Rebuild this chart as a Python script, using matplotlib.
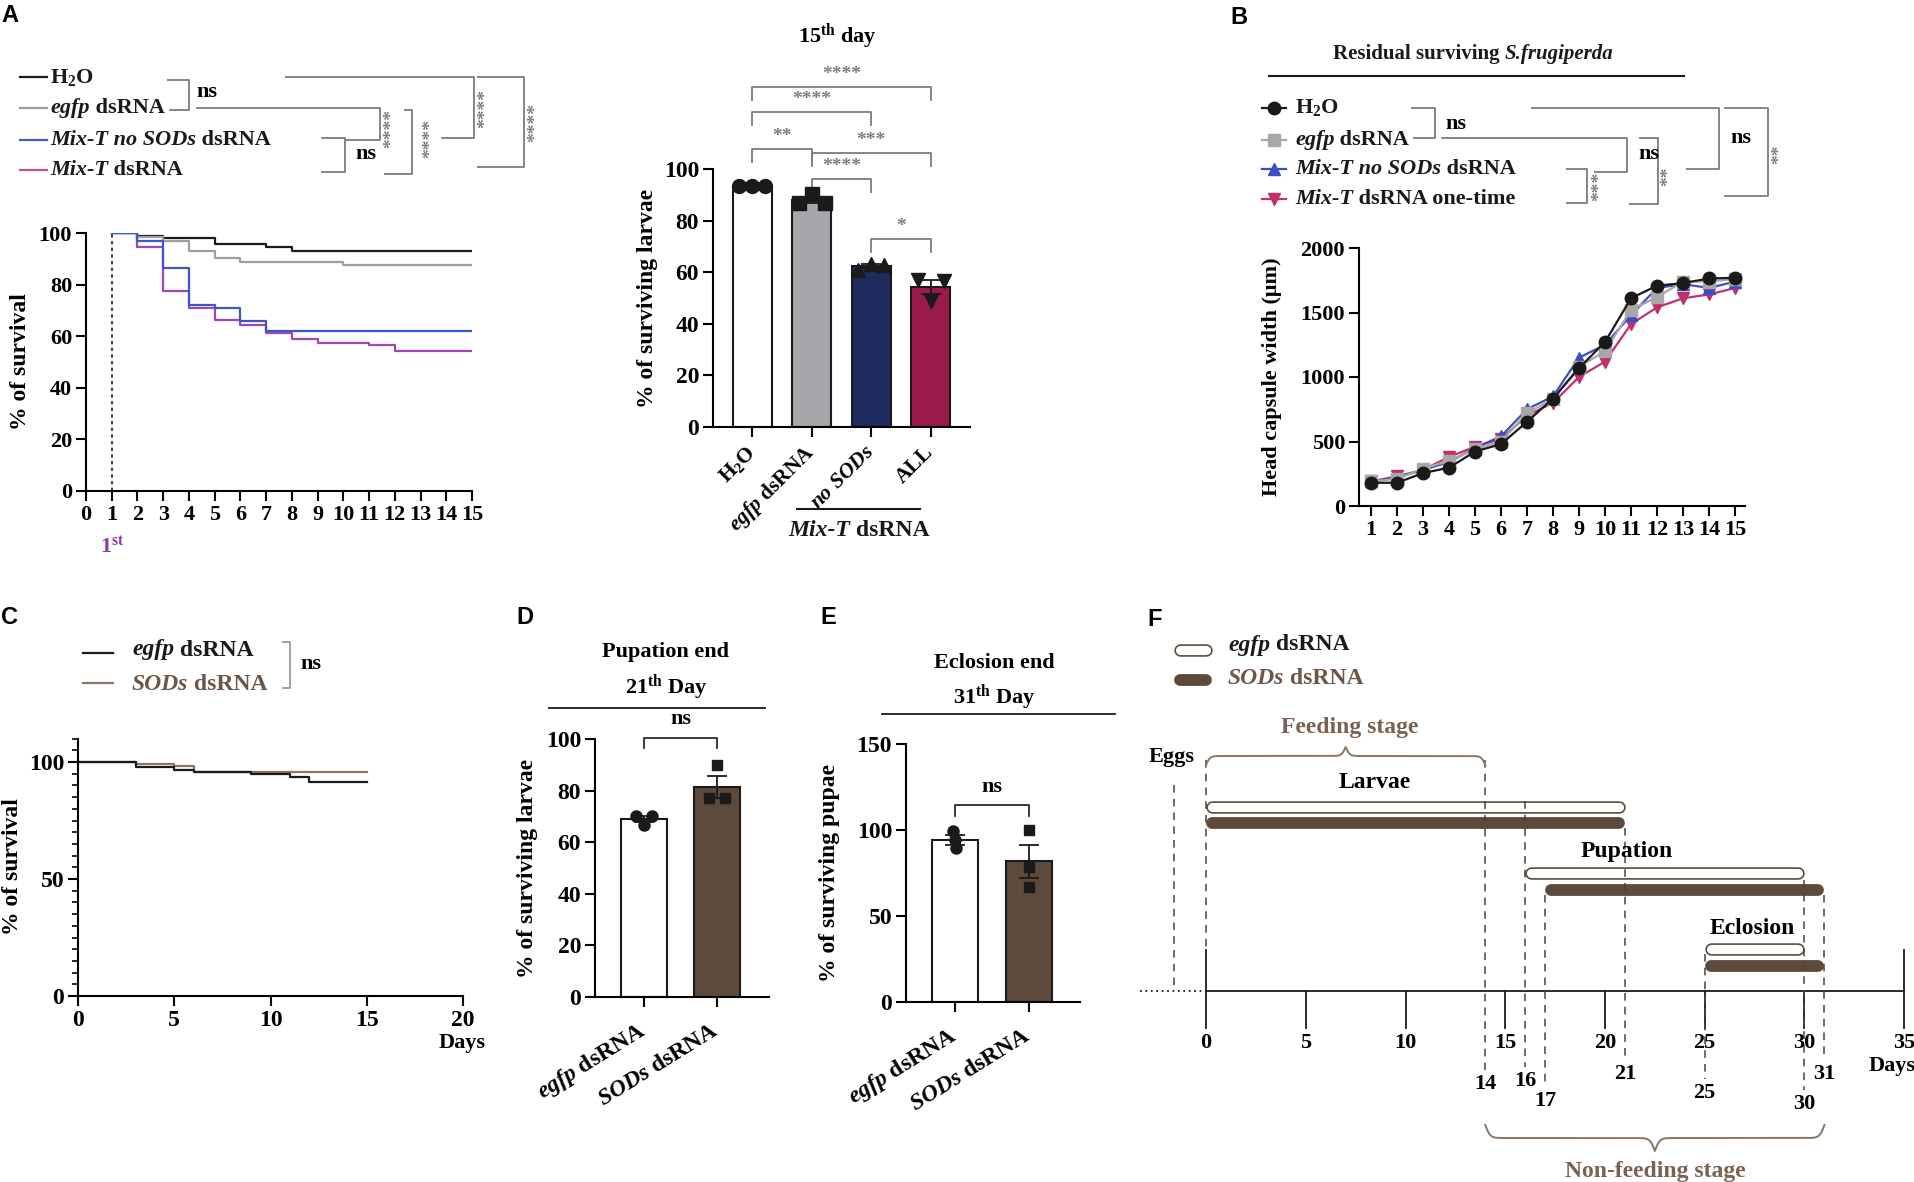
import numpy as np
import matplotlib
matplotlib.use("Agg")
import matplotlib.pyplot as plt

# ---------------- data ----------------
# A, survival curves (day of each step, % surviving)
a_h2o_x = [1, 2, 3, 5, 7, 8, 15]
a_h2o_y = [100, 98.8, 97.9, 95.6, 94.4, 93.2, 93.2]
a_egfp_x = [1, 2, 3, 4, 5, 6, 10, 15]
a_egfp_y = [100, 98.3, 96.9, 93.2, 90.4, 88.6, 87.6, 87.6]
a_nosod_x = [1, 2, 3, 4, 5, 6, 7, 15]
a_nosod_y = [100, 97.0, 86.5, 72.2, 71.0, 65.7, 62.2, 62.2]
a_mix_x = [1, 2, 3, 4, 5, 6, 7, 8, 9, 11, 12, 15]
a_mix_y = [100, 94.7, 77.5, 70.8, 66.4, 64.3, 61.1, 58.8, 57.4, 56.4, 54.2, 54.2]

# A, 15th day bars (three replicates per group)
bar_labels = [r"H$_2$O", r"$\mathit{egfp}$ dsRNA", r"$\mathit{no\ SODs}$", "ALL"]
bar_pts = [[93.5, 93.5, 93.5], [86.7, 90.5, 86.7], [60.8, 63.2, 62.8], [57.0, 49.0, 56.6]]

# B, head capsule width per day
b_days = list(range(1, 16))
b_h2o = [180, 180, 255, 297, 422, 480, 653, 833, 1069, 1272, 1611, 1708, 1728, 1764, 1769]
b_egfp = [190, 210, 290, 350, 440, 500, 720, 830, 1080, 1200, 1520, 1620, 1740, 1740, 1760]
b_nosod = [190, 220, 280, 340, 450, 540, 750, 850, 1150, 1250, 1480, 1690, 1720, 1690, 1740]
b_mix = [190, 230, 280, 380, 460, 520, 700, 800, 1000, 1120, 1410, 1540, 1610, 1640, 1690]

# C, survival
c_egfp_x = [0, 3, 5, 6, 9, 11, 12, 15]
c_egfp_y = [100, 97.9, 96.7, 95.7, 95.0, 93.6, 91.3, 91.3]
c_sod_x = [0, 3, 5, 6, 15]
c_sod_y = [100, 99.0, 98.1, 95.7, 95.7]

# D, E replicates
de_labels = [r"$\mathit{egfp}$ dsRNA", r"$\mathit{SODs}$ dsRNA"]
d_egfp = [70, 66.5, 70]
d_sod = [77, 90, 77]
e_egfp = [99.5, 94, 89.5]
e_sod = [100, 78.5, 67]

# F, timeline (days)
f_stages = ["Larvae", "Pupation", "Eclosion"]
f_egfp_start = [0, 16, 25]
f_egfp_end = [21, 30, 30]
f_sod_start = [0, 17, 25]
f_sod_end = [21, 31, 31]
f_ticks = [0, 5, 10, 15, 20, 25, 30, 35]
f_marks = [14, 16, 17, 21, 25, 30, 31]

# ---------------- style ----------------
plt.rcParams["font.family"] = ["Liberation Serif", "DejaVu Serif"]
plt.rcParams["font.weight"] = "bold"
plt.rcParams["mathtext.fontset"] = "custom"
plt.rcParams["mathtext.rm"] = "Liberation Serif:bold"
plt.rcParams["mathtext.it"] = "Liberation Serif:italic:bold"
plt.rcParams["mathtext.bf"] = "Liberation Serif:bold"
plt.rcParams["axes.linewidth"] = 1.5

W, H = 1914, 1182
fig = plt.figure(figsize=(W / 100, H / 100), dpi=100)

BLACK = "#1a1a1a"
GRAY = "#7c7c7c"
BROWN = "#5e4a3c"
BROWN_T = "#7a6150"


def px_axes(x0, y0, x1, y1):
    # axes from pixel box (top-left origin)
    return fig.add_axes([x0 / W, 1 - y1 / H, (x1 - x0) / W, (y1 - y0) / H])


def style(ax, size=14):
    for s in ["top", "right"]:
        ax.spines[s].set_visible(False)
    ax.tick_params(direction="out", length=7, width=1.5, labelsize=size, pad=3)
    for lab in ax.get_xticklabels() + ax.get_yticklabels():
        lab.set_fontweight("bold")


ov = fig.add_axes([0, 0, 1, 1], zorder=10)
ov.set_xlim(0, W)
ov.set_ylim(H, 0)
ov.axis("off")


def rich(x, y, parts, size=16, color=BLACK, ax=None):
    ax = ax or ov
    t = ax.text(x, y, parts[0][0], fontsize=size, style=parts[0][1], color=color,
                va="center", ha="left", fontweight="bold")
    for s, st in parts[1:]:
        t = ax.annotate(s, xy=(1, 0), xycoords=t, va="bottom", ha="left",
                        fontsize=size, style=st, color=color, fontweight="bold")
    return t


def seg(pts, color=GRAY, lw=1.3, ax=None, **kw):
    ax = ax or ov
    xs, ys = zip(*pts)
    ax.plot(xs, ys, color=color, lw=lw, solid_capstyle="butt", **kw)


def stars(x, y, s, size=14, rot=90):
    ov.text(x, y, s, rotation=rot, ha="center", va="center", fontsize=size, color=GRAY)


# panel letters
for lab, x, y in [("A", 10, 16), ("B", 1239, 18), ("C", 10, 617),
                  ("D", 525, 618), ("E", 828, 618), ("F", 1155, 620)]:
    ov.text(x, y, lab, fontsize=17, fontweight="bold", family="Liberation Sans",
            ha="center", va="center")

# ================= A: survival =================
ax = px_axes(86, 233, 472, 491)
ax.step(a_h2o_x, a_h2o_y, where="post", color=BLACK, lw=1.6)
ax.step(a_egfp_x, a_egfp_y, where="post", color="#a0a0a0", lw=1.6)
ax.step(a_mix_x, a_mix_y, where="post", color="#a046bd", lw=1.6)
ax.step(a_nosod_x, a_nosod_y, where="post", color="#3b57c8", lw=1.6)
ax.plot([1, 1], [0, 100], ls=(0, (2, 2)), color=BLACK, lw=1.2)
ax.set_xlim(0, 15)
ax.set_ylim(0, 100)
ax.set_xticks(range(16))
ax.set_yticks(range(0, 101, 20))
style(ax, 16)
ov.text(21, 362, "% of survival", rotation=90, ha="center", va="center", fontsize=17)
ov.text(112, 547, r"1$^{\mathrm{st}}$", color="#8e3ca8", ha="center", va="center", fontsize=16)

leg_a = [(BLACK, [(r"H$_2$O", "normal")]),
         ("#9a9a9a", [("egfp", "italic"), (" dsRNA", "normal")]),
         ("#4a5cc8", [("Mix-T no SODs", "italic"), (" dsRNA", "normal")]),
         ("#c0508e", [("Mix-T", "italic"), (" dsRNA", "normal")])]
for (c, parts), y in zip(leg_a, [77, 108, 140, 170]):
    ov.plot([20, 47], [y, y], color=c, lw=1.6)
    rich(50, y, parts, size=16)

# significance brackets (legend of A)
seg([(167, 80), (189, 80), (189, 110), (169, 110)])
ov.text(196, 92, "ns", fontsize=16, va="center")
seg([(196, 108), (380, 108), (380, 140), (345, 140)])
seg([(321, 138), (345, 138), (345, 172), (321, 172)])
ov.text(355, 154, "ns", fontsize=16, va="center")
stars(392, 129, "****")
seg([(404, 110), (412, 110), (412, 174), (384, 174)])
stars(431, 138, "****")
seg([(441, 138), (474, 138), (474, 77), (285, 77)])
stars(486, 108, "****")
seg([(477, 77), (524, 77), (524, 167), (477, 167)])
stars(536, 122, "****")

# ================= A: 15th day bars =================
ax = px_axes(713, 169, 970, 427)
means = [np.mean(p) for p in bar_pts]
sems = [np.std(p, ddof=1) / np.sqrt(len(p)) for p in bar_pts]
xpos = np.arange(len(bar_pts))
ax.bar(xpos, means, width=0.65, color=["white", "#a6a6ab", "#1f2b5e", "#9b1a4c"],
       edgecolor=BLACK, lw=1.5, zorder=2)
ax.errorbar(xpos, means, yerr=sems, fmt="none", ecolor=BLACK, capsize=7,
            elinewidth=1.3, capthick=1.3, zorder=3)
for i, (p, m) in enumerate(zip(bar_pts, ["o", "s", "^", "v"])):
    ax.plot(i + np.array([-0.22, 0, 0.22]), p, m, color=BLACK, ms=10, zorder=4, clip_on=False)
ax.set_xlim(-0.66, 3.66)
ax.set_ylim(0, 100)
ax.set_yticks(range(0, 101, 20))
ax.set_xticks(xpos)
ax.set_xticklabels(bar_labels, rotation=45, ha="right", va="center", rotation_mode="anchor")
style(ax, 17)
ax.tick_params(axis="x", pad=9, labelsize=15.5)


def bracket(ax, x0, x1, y, txt, drop=5, size=14):
    ax.plot([x0, x0, x1, x1], [y - drop, y, y, y - drop], color=GRAY, lw=1.3, clip_on=False)
    ax.text((x0 + x1) / 2, y + 1.5, txt, ha="center", va="bottom", fontsize=size,
            color=GRAY, clip_on=False)


bracket(ax, 0, 3, 131.8, "****")
bracket(ax, 0, 2, 122.1, "****")
bracket(ax, 0, 1, 107.8, "**")
bracket(ax, 1, 3, 106.2, "***")
bracket(ax, 1, 2, 96.1, "****")
bracket(ax, 2, 3, 72.9, "*")
ov.text(837, 36, r"15$^{\mathrm{th}}$ day", ha="center", va="center", fontsize=16)
ov.text(647, 298, "% of surviving larvae", rotation=90, ha="center", va="center", fontsize=17)
ov.plot([797, 920], [509, 509], color=BLACK, lw=1.5)
rich(788, 530, [("Mix-T", "italic"), (" dsRNA", "normal")], size=17)

# ================= B =================
ax = px_axes(1359, 248, 1745, 506)
b_series = [(b_mix, "#c2306c", "v"), (b_nosod, "#3a4fc4", "^"),
            (b_egfp, "#a8a8a8", "s"), (b_h2o, BLACK, "o")]
for vals, c, m in b_series:
    ax.plot(b_days, vals, marker=m, color=c, lw=1.6, ms=9)
ax.set_xlim(0.54, 15.38)
ax.set_ylim(0, 2000)
ax.set_xticks(b_days)
ax.set_yticks(range(0, 2001, 500))
style(ax, 16)
ov.text(1272, 377, "Head capsule width (μm)", rotation=90, ha="center", va="center", fontsize=16)
rich(1333, 54, [("Residual surviving ", "normal"), ("S.frugiperda", "italic")], size=15)
ov.plot([1269, 1684], [76, 76], color=BLACK, lw=1.5)
leg_b = [(BLACK, "o", [(r"H$_2$O", "normal")]),
         ("#a8a8a8", "s", [("egfp", "italic"), (" dsRNA", "normal")]),
         ("#3a4fc4", "^", [("Mix-T no SODs", "italic"), (" dsRNA", "normal")]),
         ("#c2306c", "v", [("Mix-T", "italic"), (" dsRNA one-time", "normal")])]
for (c, m, parts), y in zip(leg_b, [108, 140, 169, 199]):
    ov.plot([1262, 1286], [y, y], color=c, lw=1.6)
    ov.plot([1274], [y], marker=m, color=c, ms=9)
    rich(1295, y, parts, size=16)
seg([(1411, 108), (1435, 108), (1435, 138), (1413, 138)])
ov.text(1445, 124, "ns", fontsize=16, va="center")
seg([(1441, 138), (1627, 138), (1627, 172), (1594, 172)])
ov.text(1638, 154, "ns", fontsize=16, va="center")
seg([(1566, 169), (1587, 169), (1587, 203), (1566, 203)])
stars(1600, 186, "***")
seg([(1639, 138), (1658, 138), (1658, 204), (1629, 204)])
stars(1669, 176, "**")
seg([(1531, 108), (1719, 108), (1719, 169), (1686, 169)])
ov.text(1730, 138, "ns", fontsize=16, va="center")
seg([(1724, 108), (1768, 108), (1768, 196), (1724, 196)])
stars(1780, 154, "**")

# ================= C =================
ax = px_axes(78, 738.6, 463, 996)
ax.step(c_sod_x, c_sod_y, where="post", color="#8b7567", lw=1.6)
ax.step(c_egfp_x, c_egfp_y, where="post", color=BLACK, lw=1.6)
ax.set_xlim(0, 20)
ax.set_ylim(0, 110)
ax.set_xticks(range(0, 21, 5))
ax.set_yticks([0, 50, 100])
ax.set_yticks(range(0, 111, 5), minor=True)
style(ax, 17)
ax.tick_params(which="minor", length=4, width=1.2)
ov.text(13, 867, "% of survival", rotation=90, ha="center", va="center", fontsize=17)
ov.text(462, 1043, "Days", ha="center", va="center", fontsize=16)
ov.plot([83, 113], [653, 653], color=BLACK, lw=1.6)
ov.plot([83, 113], [683, 683], color="#8b7567", lw=1.6)
rich(132, 650, [("egfp", "italic"), (" dsRNA", "normal")], size=17)
rich(132, 684, [("SODs", "italic"), (" dsRNA", "normal")], size=17, color="#6e5646")
seg([(282, 642), (290, 642), (290, 688), (282, 688)], color="#9a9a9a")
ov.text(300, 664, "ns", fontsize=16, va="center")


# ================= D, E =================
def small_bars(box, egfp, sod):
    ax = px_axes(*box)
    pts = [egfp, sod]
    m = [np.mean(p) for p in pts]
    se = [np.std(p, ddof=1) / np.sqrt(len(p)) for p in pts]
    ax.bar([0, 1], m, width=0.62, color=["white", BROWN], edgecolor=BLACK, lw=1.5, zorder=2)
    ax.errorbar([0, 1], m, yerr=se, fmt="none", ecolor=BLACK, capsize=7,
                elinewidth=1.3, capthick=1.3, zorder=3)
    return ax, pts


ax, pts = small_bars((595, 739, 769, 997), d_egfp, d_sod)
ax.plot(np.array([-0.11, 0, 0.11]), pts[0], "o", color=BLACK, ms=8, zorder=4)
ax.plot(1 + np.array([-0.11, 0, 0.11]), pts[1], "s", color=BLACK, ms=7, zorder=4)
ax.set_xlim(-0.67, 1.71)
ax.set_ylim(0, 100)
ax.set_yticks(range(0, 101, 20))
ax.set_xticks([0, 1])
ax.set_xticklabels(de_labels, rotation=32, ha="right", va="center", rotation_mode="anchor")
style(ax, 17)
ax.tick_params(axis="x", pad=16)
ax.plot([0, 0, 1, 1], [96.5, 100.4, 100.4, 96.5], color=BLACK, lw=1.2, clip_on=False)
ax.text(0.5, 104, "ns", ha="center", va="bottom", fontsize=16)
ov.text(527, 868, "% of surviving larvae", rotation=90, ha="center", va="center", fontsize=17)
ov.text(666, 652, "Pupation end", ha="center", va="center", fontsize=16)
ov.text(666, 687, r"21$^{\mathrm{th}}$ Day", ha="center", va="center", fontsize=16)
ov.plot([549, 765], [708, 708], color=BLACK, lw=1.3)

ax, pts = small_bars((906, 744, 1080, 1002), e_egfp, e_sod)
ax.plot(np.array([-0.02, 0.0, 0.02]), pts[0], "o", color=BLACK, ms=8, zorder=4)
ax.plot(1 + np.array([0, 0, 0]), pts[1], "s", color=BLACK, ms=7, zorder=4)
ax.set_xlim(-0.66, 1.69)
ax.set_ylim(0, 150)
ax.set_yticks(range(0, 151, 50))
ax.set_xticks([0, 1])
ax.set_xticklabels(de_labels, rotation=32, ha="right", va="center", rotation_mode="anchor")
style(ax, 17)
ax.tick_params(axis="x", pad=16)
ax.plot([0, 0, 1, 1], [108, 114.5, 114.5, 108], color=BLACK, lw=1.2, clip_on=False)
ax.text(0.5, 119, "ns", ha="center", va="bottom", fontsize=16)
ov.text(830, 873, "% of surviving pupae", rotation=90, ha="center", va="center", fontsize=17)
ov.text(994, 663, "Eclosion end", ha="center", va="center", fontsize=16)
ov.text(994, 697, r"31$^{\mathrm{th}}$ Day", ha="center", va="center", fontsize=16)
ov.plot([882, 1115], [714, 714], color=BLACK, lw=1.3)

# ================= F: timeline =================
ax = px_axes(1140, 600, 1914, 1182)
ax.set_xlim(-3.31, 35.49)
ax.set_ylim(1182, 600)
ax.axis("off")
PXD = 19.95  # pixels per day
AXY = 991

ax.plot([0, f_ticks[-1]], [AXY, AXY], color=BLACK, lw=1.3)
ax.plot([-3.31, 0], [AXY, AXY], color=BLACK, lw=1.3, ls=(0, (1, 2)))
for d in f_ticks:
    top = 950 if d in (0, f_ticks[-1]) else AXY
    ax.plot([d, d], [top, 1028], color=BLACK, lw=1.3)
    ax.text(d, 1043, str(d), ha="center", va="center", fontsize=16)
ax.text(34.4, 1066, "Days", ha="center", va="center", fontsize=16)

egfp_rows = [807, 873, 948.5]
sod_rows = [823, 889.5, 965.5]
cap = 6 / PXD


def open_bar(x0, x1, y):
    ax.plot([x0 + cap, x1 - cap], [y, y], color=BROWN, lw=9, solid_capstyle="round")
    ax.plot([x0 + cap, x1 - cap], [y, y], color="white", lw=6.6, solid_capstyle="round")


def full_bar(x0, x1, y):
    ax.plot([x0 + cap, x1 - cap], [y, y], color=BROWN, lw=8.5, solid_capstyle="round")


for s, e, y in zip(f_egfp_start, f_egfp_end, egfp_rows):
    open_bar(s, e, y)
for s, e, y in zip(f_sod_start, f_sod_end, sod_rows):
    full_bar(s, e, y)
for name, x, y in zip(f_stages, [8.45, 21.1, 27.4], [783, 852, 928]):
    ax.text(x, y, name, ha="center", va="center", fontsize=17)

# dashed guide lines
dash = dict(color="#444444", lw=1.1, ls=(0, (5, 4)))
ax.plot([-1.6, -1.6], [785, AXY], **dash)
ax.text(-1.74, 757, "Eggs", ha="center", va="center", fontsize=16)
ax.plot([0, 0], [760, 950], **dash)
mark_top = [760, 801, 895, 828, 954, 880, 895]
mark_lab_y = [1084, 1081, 1101, 1074, 1093, 1104, 1074]
for d, top, ly in zip(f_marks, mark_top, mark_lab_y):
    ax.plot([d, d], [top, ly - 14], **dash)
    ax.text(d, ly, str(d), ha="center", va="center", fontsize=16)


def brace(x0, x1, y_edge, h, up=True, n=300):
    u = np.linspace(0, 0.5, n)
    beta = 140.0
    half = 1 / (1 + np.exp(-beta * (u - u[0]))) + 1 / (1 + np.exp(-beta * (u - u[-1])))
    yy = np.concatenate([half, half[-2::-1]]) - 0.5
    xx = np.linspace(x0, x1, len(yy))
    sign = -1 if up else 1
    ax.plot(xx, y_edge + sign * h * yy, color="#8a7462", lw=1.4)


brace(0, 14, 765, 18, up=True)
ax.text(7.2, 727, "Feeding stage", ha="center", va="center", fontsize=17, color=BROWN_T)
brace(14, 31, 1125, 26, up=False)
ax.text(22.5, 1171, "Non-feeding stage", ha="center", va="center", fontsize=17, color=BROWN_T)

# legend F
open_bar(-1.6, 0.3, 650)
full_bar(-1.6, 0.3, 680)
rich(1.1, 645, [("egfp", "italic"), (" dsRNA", "normal")], size=17, ax=ax)
rich(1.1, 679, [("SODs", "italic"), (" dsRNA", "normal")], size=17, color="#6e5646", ax=ax)

fig.savefig("out.png", dpi=100)
